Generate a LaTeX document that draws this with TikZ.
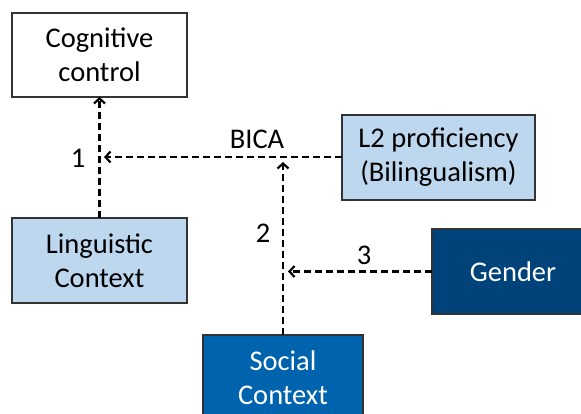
\documentclass[tikz,border=0pt]{standalone}
\usepackage{fontspec}
\setmainfont{Carlito}
\usepackage{xcolor}
\usepackage{tikz}
\usetikzlibrary{arrows.meta, positioning}
\definecolor{paleBlue}{RGB}{189, 215, 238}
\definecolor{midBlue}{RGB}{0, 99, 174}
\definecolor{navyBlue}{RGB}{0, 67, 122}

\begin{document}
\begin{tikzpicture}[
    x=1pt, y=-1pt,
    box/.style={rectangle, draw=black!80, line width=1.3pt, inner sep=0pt, outer sep=0pt, minimum width=175pt, minimum height=85pt, align=center, font=\fontsize{28.5}{34}\selectfont},
    darkbox/.style={box, fill=#1, text=white},
    lbl/.style={font=\fontsize{28.5}{34}\selectfont},
    arrow/.style={dash pattern=on 7pt off 4pt, line width=2.4pt, -{Straight Barb[length=5pt, width=11pt, line width=2.2pt]}}
]
\useasboundingbox (0,0) rectangle (581,414);

% Outcome
\node[box, fill=white, minimum height=84pt] (cog) at (99.5,55) {Cognitive\\control};

% Predictors
\node[box, fill=paleBlue, below=121pt of cog] (ling) {Linguistic\\Context};
\node[box, fill=paleBlue, minimum width=193pt, anchor=north west, below right=60pt and 155pt of cog.east] (lii) {L2 proficiency\\(Bilingualism)};
\node[darkbox=navyBlue, minimum width=162pt, anchor=north west, below right=29pt and 90pt of lii.south west] (gender) {Gender};
\node[darkbox=midBlue, minimum width=160pt, anchor=north west, below right=32pt and 16pt of ling.south east] (social) {Social\\Context};

% Arrow ends
\coordinate (end1) at (104,157);
\coordinate (end2) at (social.north |- 0,162);
\coordinate (end3) at (288,0 |- gender.west);

% Labels
\node[lbl] (one) at (78,158) {1};
\node[lbl] (bica) at (257,139) {BICA};
\node[lbl] (two) at (263,233) {2};
\node[lbl] (three) at (364,255) {3};

% Arrows
\draw[arrow] (ling) -- (cog);
\draw[arrow] (lii.west |- 0,157) -- (end1);
\draw[arrow] (social) -- (end2);
\draw[arrow] (gender.west) -- (end3);

\end{tikzpicture}
\end{document}
